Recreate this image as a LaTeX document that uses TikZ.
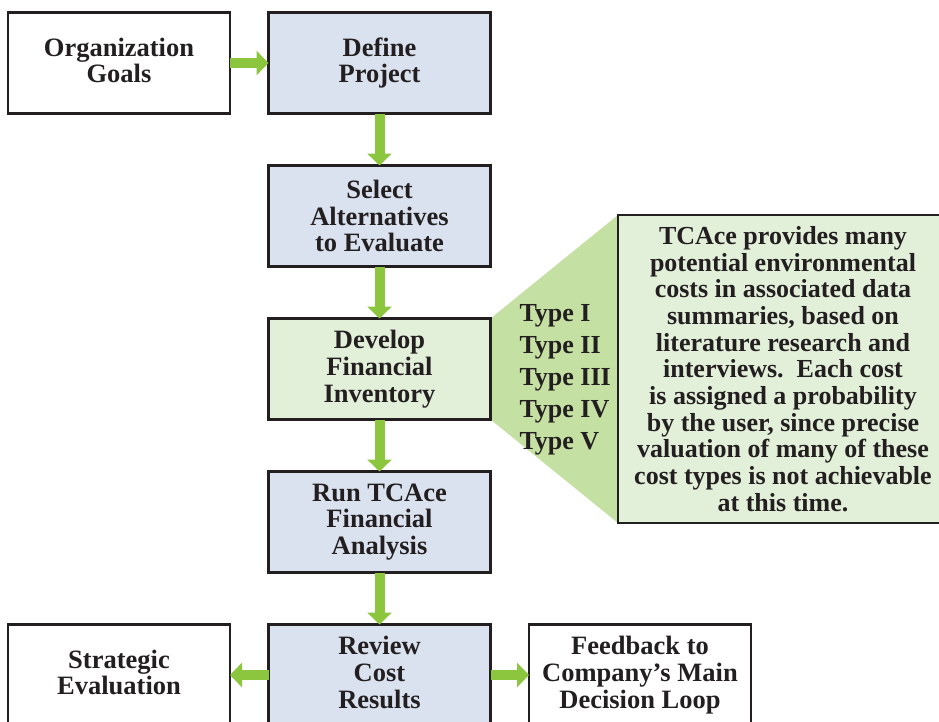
\documentclass[tikz,border=0pt]{standalone}
\usepackage{fontspec}
\setmainfont{Liberation Serif}
\usetikzlibrary{positioning,arrows.meta,backgrounds}
\definecolor{boxblue}{HTML}{DAE2EF}
\definecolor{boxgreen}{HTML}{E2EFD9}
\definecolor{fangreen}{HTML}{C5E0A3}
\definecolor{arrowgreen}{HTML}{8CC63F}
\definecolor{edgegray}{HTML}{231F20}

\begin{document}
\begin{tikzpicture}[x=1pt,y=-1pt,node distance=52pt and 38.5pt,
	every node/.style={font=\fontsize{26.5}{26.7}\selectfont\bfseries,text=edgegray},
	stepbox/.style={draw=edgegray,line width=2.8pt,minimum width=222pt,minimum height=101pt,align=center,inner sep=0pt,outer sep=0pt},
	flow/.style={-{Triangle[length=12pt,width=24pt]},arrowgreen,line width=10pt}]
		\useasboundingbox (0,0) rectangle (939,721);

		\node[stepbox] (org) at (119,63) {Organization\\Goals\vphantom{p}};
		\node[stepbox,fill=boxblue] (define) [right=of org] {Define\\Project};
		\node[stepbox,fill=boxblue] (select) [below=of define] {Select\\Alternatives\\to Evaluate};
		\node[stepbox,fill=boxgreen] (develop) [below=of select] {Develop\\Financial\\Inventory};
		\node[stepbox,fill=boxblue] (run) [below=of develop] {Run TCAce\\Financial\\Analysis};
		\node[stepbox,fill=boxblue] (review) [below=of run] {Review\\Cost\\Results\vphantom{p}};
		\node[stepbox] (strategic) [left=of review] {Strategic\\Evaluation\vphantom{p}};
		\node[stepbox] (feedback) [right=of review] {Feedback to\\Company’s Main\\Decision Loop};

		% cost summary box and its fan
		\node[draw=edgegray,line width=2.8pt,fill=boxgreen,minimum width=330pt,minimum height=308pt,
			align=center,inner sep=0pt,outer sep=0pt,font=\fontsize{26}{26.7}\selectfont\bfseries] (info) at (783,369)
			{TCAce provides many\\potential environmental\\costs in associated data\\summaries, based on\\literature research and\\interviews.\ \ Each cost\\is assigned a probability\\by the user, since precise\\valuation of many of these\\cost types is not achievable\\at this time.};
		\begin{scope}[on background layer]
			\fill[fangreen] (develop.north east) -- (info.north west) -- (info.south west) -- (develop.south east) -- cycle;
		\end{scope}
		\node[align=left,anchor=west,font=\fontsize{26}{32}\selectfont\bfseries] (types) at (516,380)
			{Type I\\Type II\\Type III\\Type IV\\Type V};

		\draw[flow] (org) -- (define);
		\draw[flow] (define) -- (select);
		\draw[flow] (select) -- (develop);
		\draw[flow] (develop) -- (run);
		\draw[flow] (run) -- (review);
		\draw[flow] (review) -- (strategic);
		\draw[flow] (review) -- (feedback);
\end{tikzpicture}
\end{document}
